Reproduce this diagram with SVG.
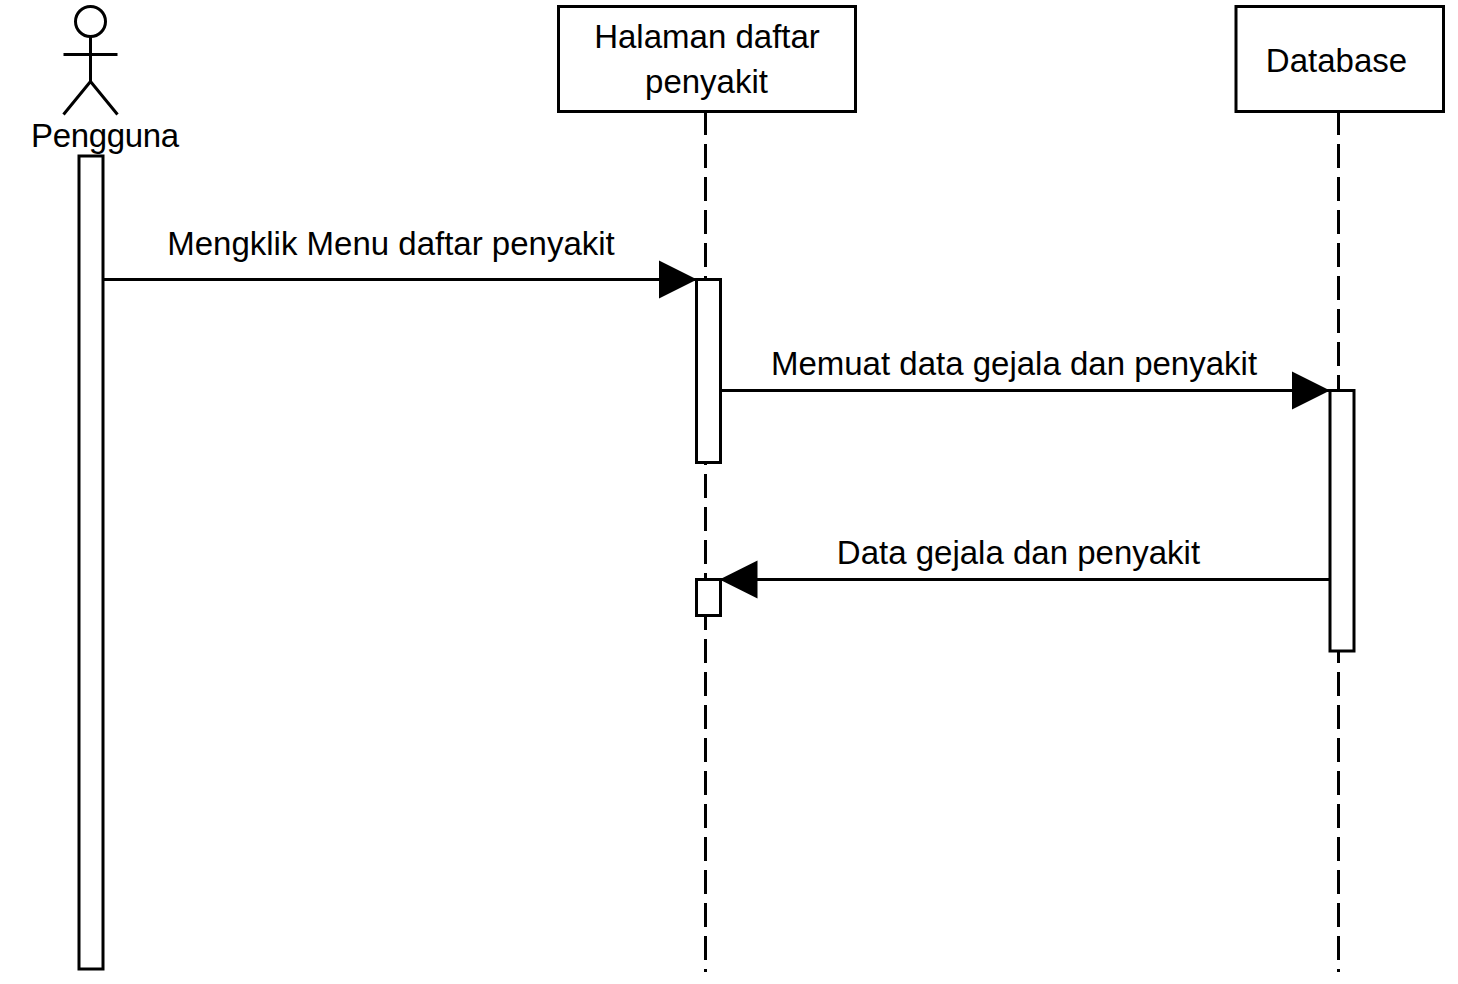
<svg xmlns="http://www.w3.org/2000/svg" width="1458" height="984" viewBox="0 0 1458 984">
<style>
text{font-family:"Liberation Sans",Arial,sans-serif;font-size:33px;fill:#000;text-anchor:middle}
.s{fill:none;stroke:#000;stroke-width:3}
.b{fill:#fff;stroke:#000;stroke-width:3}
.d{fill:none;stroke:#000;stroke-width:3;stroke-dasharray:24 9}
</style>
<defs><marker id="a" markerUnits="userSpaceOnUse" markerWidth="40" markerHeight="40" refX="38" refY="20" orient="auto"><path d="M0 1L38 20L0 39Z" fill="#000"/></marker></defs>
<rect width="1458" height="984" fill="#fff"/>
<g id="lifelines"><line class="d" x1="705.5" y1="111" x2="705.5" y2="972"/><line class="d" x1="1338.5" y1="111" x2="1338.5" y2="972"/></g>
<g id="actor"><circle class="s" cx="90.5" cy="21.5" r="15"/><path class="s" d="M90.5 36.5V81.5M63.5 54.5H117.5M90.5 81.5L63.5 114.5M90.5 81.5L117.5 114.5"/><text x="105" y="147" textLength="148">Pengguna</text></g>
<g id="halaman"><rect class="b" x="558.5" y="6.5" width="297" height="105"/><text x="707" y="48">Halaman daftar</text><text x="706.5" y="93">penyakit</text></g>
<g id="database"><rect class="b" x="1236" y="6.5" width="207.5" height="105"/><text x="1336.5" y="72">Database</text></g>
<g id="activations"><rect class="b" x="79" y="156" width="24" height="813"/><rect class="b" x="696.5" y="279.5" width="24" height="183"/><rect class="b" x="696.5" y="579.5" width="24" height="36"/><rect class="b" x="1330" y="390.5" width="24" height="260.5"/></g>
<g id="connectors"><line class="s" x1="103" y1="279.5" x2="697" y2="279.5" marker-end="url(#a)"/><line class="s" x1="720.5" y1="390.5" x2="1330" y2="390.5" marker-end="url(#a)"/><line class="s" x1="1330" y1="579.5" x2="719.5" y2="579.5" marker-end="url(#a)"/></g>
<g id="labels"><text x="391" y="255">Mengklik Menu daftar penyakit</text><text x="1014" y="375">Memuat data gejala dan penyakit</text><text x="1018.5" y="564">Data gejala dan penyakit</text></g>
</svg>
